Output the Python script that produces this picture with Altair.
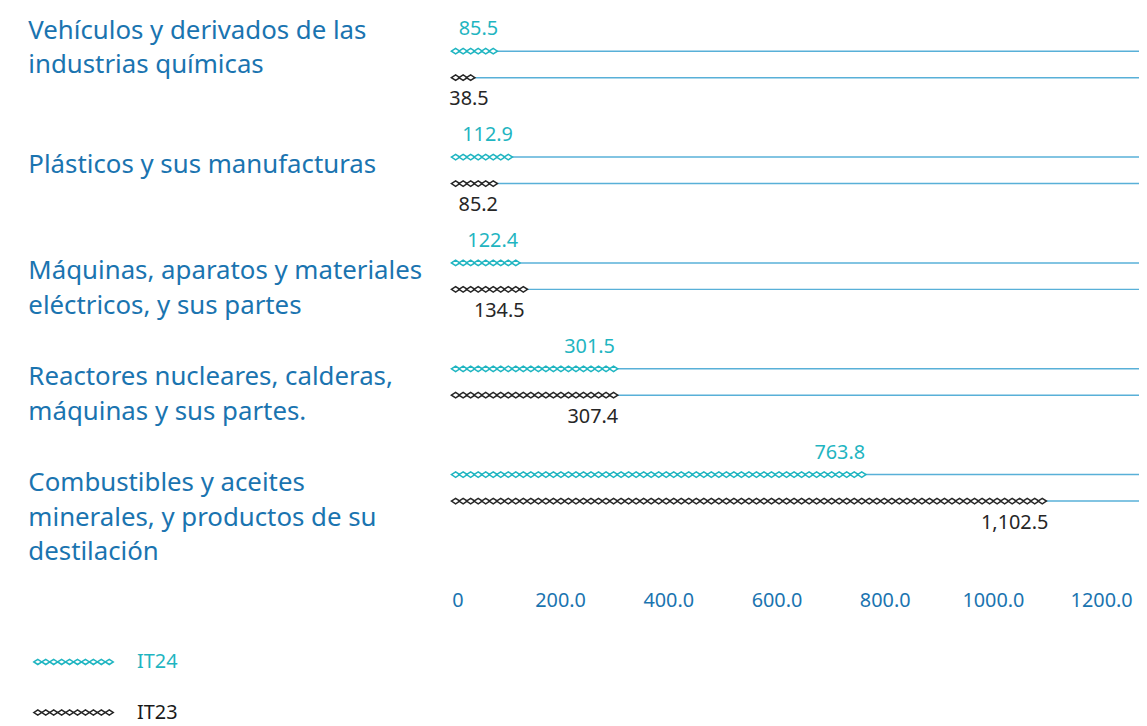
import altair as alt
import pandas as pd

# ---- data ----
categories = [
    "Vehículos y derivados de las|industrias químicas",
    "Plásticos y sus manufacturas",
    "Máquinas, aparatos y materiales|eléctricos, y sus partes",
    "Reactores nucleares, calderas,|máquinas y sus partes.",
    "Combustibles y aceites|minerales, y productos de su|destilación",
]
series_names = ["IT24", "IT23"]
it24 = [85.5, 112.9, 122.4, 301.5, 763.8]
it23 = [38.5, 85.2, 134.5, 307.4, 1102.5]
x_ticks = [0, 200, 400, 600, 800, 1000, 1200]

# ---- styles ----
TEAL = "#1fb5c1"
DARK = "#262626"
BLUE = "#1a74b0"
LINE = "#58b0d8"
FONT = "Noto Sans"
STEP = 13.9  # data units per pictogram diamond

rows = []
for cat, a, b in zip(categories, it24, it23):
    rows.append({"cat": cat, "series": "IT24", "value": a})
    rows.append({"cat": cat, "series": "IT23", "value": b})
df = pd.DataFrame(rows)

# pictogram units: one diamond per STEP units of value
pts = []
for r in rows:
    n = max(1, round(r["value"] / STEP))
    for k in range(n):
        pts.append({"cat": r["cat"], "series": r["series"], "pos": STEP / 2 + k * STEP})
dpts = pd.DataFrame(pts)

diamond = "M-1,0L0,-0.65L1,0L0,0.65Z"
legend_path = " ".join(
    f"M{-1 + 0.2 * k:.2f},0L{-0.9 + 0.2 * k:.2f},-0.065L{-0.8 + 0.2 * k:.2f},0L{-0.9 + 0.2 * k:.2f},0.065Z"
    for k in range(10)
)

xscale = alt.Scale(domain=[0, 1270], nice=False, zero=True)
yscale = alt.Scale(paddingInner=0, paddingOuter=0)
yoff_scale = alt.Scale(paddingInner=0, paddingOuter=1)

y_enc = alt.Y(
    "cat:N",
    sort=categories,
    scale=yscale,
    axis=alt.Axis(
        title=None,
        domain=False,
        ticks=False,
        grid=False,
        labelAlign="left",
        labelBaseline="top",
        labelOffset={
            "condition": {"test": "indexof(datum.value, 'Vehículos') == 0", "value": -47},
            "value": -18,
        },
        labelPadding=427,
        labelExpr="split(datum.label, '|')",
        labelLineHeight=35,
        labelFontSize=26,
        labelFont=FONT,
        labelColor=BLUE,
        labelLimit=500,
    ),
)
yoff_enc = alt.YOffset("series:N", sort=series_names, scale=yoff_scale)

rules = alt.Chart(df).mark_rule(color=LINE, strokeWidth=1.5).encode(
    y=y_enc, yOffset=yoff_enc
)

points = alt.Chart(dpts).mark_point(
    shape=diamond, size=72, filled=False, fill="white", strokeWidth=1.5, opacity=1
).encode(
    x=alt.X(
        "pos:Q",
        scale=xscale,
        axis=alt.Axis(
            title=None,
            values=x_ticks,
            domain=False,
            ticks=False,
            grid=False,
            labelExpr="datum.value == 0 ? '0' : format(datum.value, '.1f')",
            labelFontSize=20,
            labelFont=FONT,
            labelColor=BLUE,
            labelPadding=50,
        ),
    ),
    y=y_enc,
    yOffset=yoff_enc,
    color=alt.Color(
        "series:N",
        sort=series_names,
        scale=alt.Scale(domain=series_names, range=[TEAL, DARK]),
        legend=alt.Legend(
            title=None,
            orient="none",
            legendX=-422,
            legendY=614,
            direction="vertical",
            symbolType=legend_path,
            symbolSize=6400,
            symbolStrokeWidth=1.5,
            symbolFillColor="white",
            labelFontSize=20,
            labelFont=FONT,
            labelOffset=23,
            labelColor=alt.ExprRef("datum.label == 'IT24' ? '#1fb5c1' : '#1a1a1a'"),
            rowPadding=-19,
            padding=0,
        ),
    ),
)

labels_top = alt.Chart(df).transform_filter("datum.series == 'IT24'").transform_calculate(
    lx="max(datum.value, 68)"
).mark_text(
    align="right", baseline="middle", dy=-22, fontSize=20, font=FONT, color=TEAL
).encode(
    x=alt.X("lx:Q", scale=xscale),
    y=y_enc,
    yOffset=yoff_enc,
    text=alt.Text("value:Q", format=",.1f"),
)

labels_bot = alt.Chart(df).transform_filter("datum.series == 'IT23'").transform_calculate(
    lx="max(datum.value, 68)"
).mark_text(
    align="right", baseline="middle", dy=22, fontSize=20, font=FONT, color=DARK
).encode(
    x=alt.X("lx:Q", scale=xscale),
    y=y_enc,
    yOffset=yoff_enc,
    text=alt.Text("value:Q", format=",.1f"),
)

chart = (
    alt.layer(rules, points, labels_top, labels_bot)
    .properties(
        width=692,
        height=533,
        background="white",
        autosize=alt.AutoSizeParams(type="none"),
        padding={"left": 447, "top": 1, "right": 0, "bottom": 184},
    )
    .configure_view(strokeWidth=0, stroke=None)
)

chart.save("out.html", embed_options={"renderer": "svg", "actions": False})
